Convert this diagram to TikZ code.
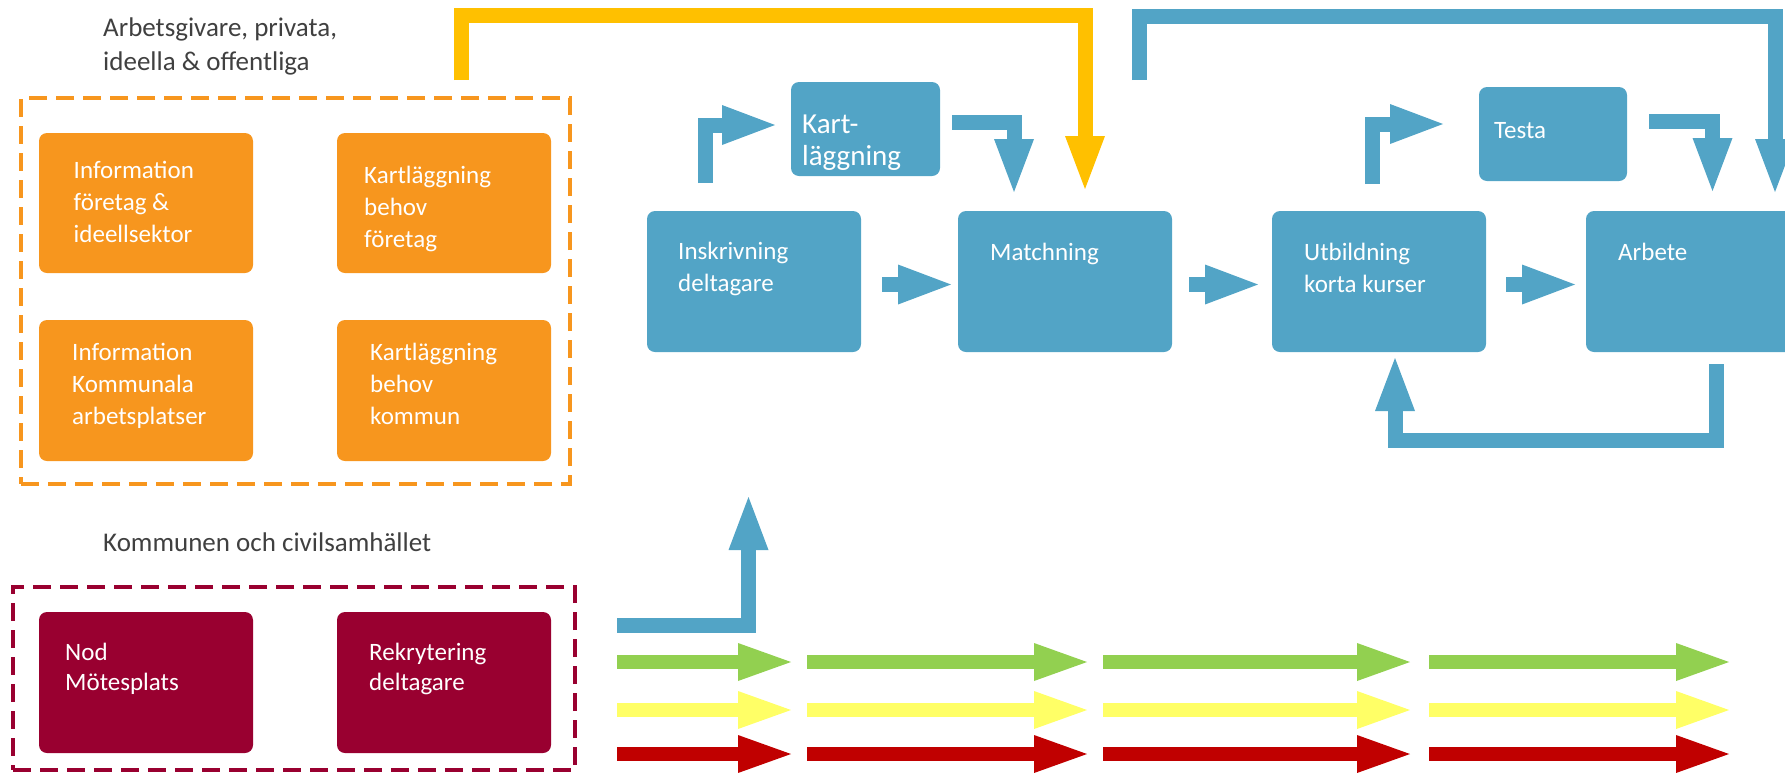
\documentclass[tikz,border=0pt]{standalone}
\usepackage{fontspec}
\setmainfont{Carlito}
\usetikzlibrary{arrows.meta}

\definecolor{orfill}{HTML}{F7961E}
\definecolor{blfill}{HTML}{52A4C6}
\definecolor{crfill}{HTML}{990030}
\definecolor{gold}{HTML}{FFC000}
\definecolor{grn}{HTML}{92D050}
\definecolor{lyel}{HTML}{FFFF66}
\definecolor{rowred}{HTML}{C00000}
\definecolor{txtgrey}{HTML}{404040}

\tikzset{
	card/.style={rounded corners=8pt, inner sep=0pt, outer sep=0pt, minimum width=214pt, minimum height=141pt},
	orbox/.style={card, fill=orfill},
	crbox/.style={card, fill=crfill},
	blbox/.style={card, fill=blfill},
	cardtext/.style={anchor=north west, inner sep=0pt, align=left, text=white, font=\fontsize{25}{32}\selectfont},
	heading/.style={anchor=north west, inner sep=0pt, align=left, text=txtgrey, font=\fontsize{27}{34}\selectfont},
	grpframe/.style={line width=4pt, dash pattern=on 18pt off 9pt, inner sep=0pt, outer sep=0pt},
	blarrow/.style={draw=blfill, line width=15pt, -{Triangle[width=40pt,length=53pt,line width=0pt]}},
	goldarrow/.style={blarrow, draw=gold},
	rowarrow/.style={line width=14pt, -{Triangle[width=38pt,length=53pt,line width=0pt]}}
}

\begin{document}
\begin{tikzpicture}[x=1pt,y=-1pt]
	\clip (0,0) rectangle (1785,772);
	
	% Arbetsgivare
	\node[heading] (head1) at (103,18) {Arbetsgivare, privata,\\ideella \& offentliga};
	\node[grpframe, draw=orfill, minimum width=549pt, minimum height=386pt] (orgrp) at (295.5,291) {};
	\node[orbox, minimum height=140pt] (info1) at (146,203) {};
	\node[orbox, minimum height=140pt] (kart1) at (444,203) {};
	\node[orbox] (info2) at (146,390.5) {};
	\node[orbox] (kart2) at (444,390.5) {};
	\node[cardtext] (info1t) at ([xshift=34.5pt,yshift=-28pt]info1.north west) {Information\\företag \&\\ideellsektor};
	\node[cardtext] (kart1t) at ([xshift=27pt,yshift=-33pt]kart1.north west) {Kartläggning\\behov\\företag};
	\node[cardtext] (info2t) at ([xshift=33pt,yshift=-23pt]info2.north west) {Information\\Kommunala\\arbetsplatser};
	\node[cardtext] (kart2t) at ([xshift=33pt,yshift=-23pt]kart2.north west) {Kartläggning\\behov\\kommun};
	
	% Kommunen
	\node[heading] (head2) at (103,533) {Kommunen och civilsamhället};
	\node[grpframe, draw=crfill, minimum width=562pt, minimum height=183pt] (crgrp) at (294,678.5) {};
	\node[crbox] (nod) at (146,682.5) {};
	\node[crbox] (rekr) at (444,682.5) {};
	\node[cardtext, font=\fontsize{25}{30}\selectfont] (nodt) at ([xshift=26pt,yshift=-31pt]nod.north west) {Nod\\Mötesplats};
	\node[cardtext, font=\fontsize{25}{30}\selectfont] (rekrt) at ([xshift=32pt,yshift=-31pt]rekr.north west) {Rekrytering\\deltagare};
	
	% Process
	\node[blbox, minimum width=149pt, minimum height=94pt] (kartl) at (865.5,129) {};
	\node[blbox] (insk) at (754,281.5) {};
	\node[blbox] (match) at (1065,281.5) {};
	\node[blbox] (utb) at (1379,281.5) {};
	\node[blbox, minimum width=148pt, minimum height=94pt] (testa) at (1553,134) {};
	\node[blbox] (arbete) at (1693,281.5) {};
	\node[cardtext, font=\fontsize{29}{32}\selectfont] (kartlt) at ([xshift=11pt,yshift=-33pt]kartl.north west) {Kart-\\läggning};
	\node[cardtext] (inskt) at ([xshift=31pt,yshift=-31pt]insk.north west) {Inskrivning\\deltagare};
	\node[cardtext] (matcht) at ([xshift=32pt,yshift=-32pt]match.north west) {Matchning};
	\node[cardtext] (utbt) at ([xshift=32pt,yshift=-32pt]utb.north west) {Utbildning\\korta kurser};
	\node[cardtext] (arbt) at ([xshift=32pt,yshift=-32pt]arbete.north west) {Arbete};
	\node[cardtext] (testat) at ([xshift=15pt,yshift=-35pt]testa.north west) {Testa};
	
	% Arrows
	\draw[blarrow] ([xshift=21pt,yshift=-3pt]insk.east) -- ([xshift=-7pt,yshift=-3pt]match.west);
	\draw[blarrow] ([xshift=17pt,yshift=-3pt]match.east) -- ([xshift=-14pt,yshift=-3pt]utb.west);
	\draw[blarrow] ([xshift=20pt,yshift=-3pt]utb.east) -- ([xshift=-11pt,yshift=-3pt]arbete.west);
	\draw[blarrow] ([xshift=58.5pt,yshift=28pt]insk.north west) |- ([xshift=-16pt,yshift=4pt]kartl.west);
	\draw[blarrow] ([xshift=12pt,yshift=6.5pt]kartl.east) -| ([xshift=-51pt,yshift=19pt]match.north);
	\draw[blarrow] ([xshift=-6.5pt,yshift=27pt]utb.north) |- ([xshift=-36pt,yshift=10pt]testa.west);
	\draw[blarrow] ([xshift=22pt,yshift=12.5pt]testa.east) -| ([xshift=19.5pt,yshift=20pt]arbete.north);
	\draw[blarrow] ([xshift=23pt,yshift=-12pt]arbete.south) -- ++(0,76) -| ([xshift=16pt,yshift=-6pt]utb.south);
	\draw[goldarrow] ([xshift=165.5pt,yshift=18pt]orgrp.north) -- ++(0,-65) -| ([xshift=20pt,yshift=22pt]match.north);
	\coordinate (loopin) at (1139.5,80);
	\draw[blarrow] (loopin) -- ++(0,-63.5) -| ([xshift=82pt,yshift=19pt]arbete.north);
	\draw[blarrow] ([xshift=42pt,yshift=53pt]crgrp.east) -| ([xshift=-5.5pt,yshift=-145pt]insk.south);
	
	% Rows
	\foreach \col/\yy in {grn/662, lyel/710, rowred/754}
		\foreach \xa/\xb in {617/791, 807/1087, 1103/1410, 1429/1729}
			\draw[rowarrow, draw=\col] (\xa,\yy) -- (\xb,\yy);
\end{tikzpicture}
\end{document}
